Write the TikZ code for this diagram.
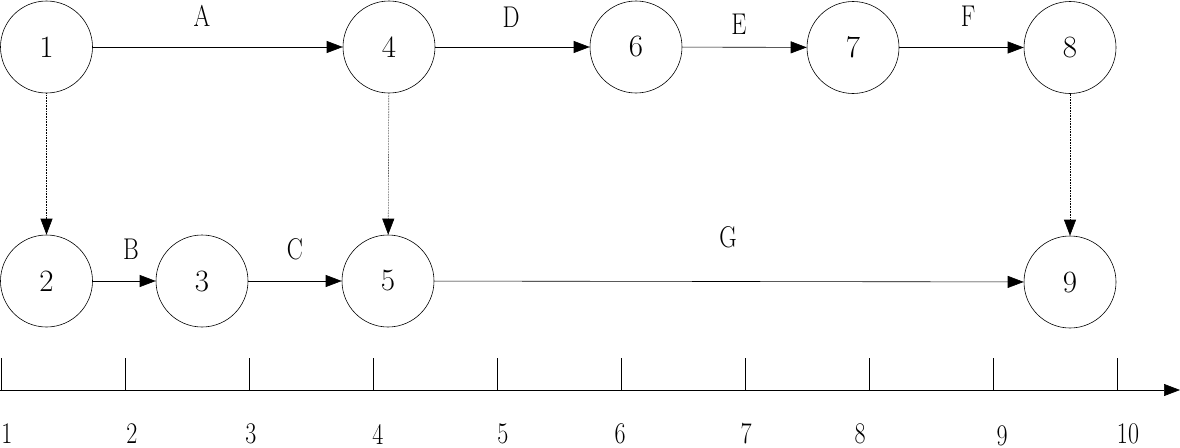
\documentclass[tikz,border=0pt]{standalone}
\usetikzlibrary{arrows.meta}
\newcommand{\lbltxt}[1]{\scalebox{0.8}[1]{\fontsize{30}{32}\selectfont #1}}
\tikzset{
  ev/.style={circle,draw,line width=0.6pt,minimum size=92pt,inner sep=0pt,font=\fontsize{31}{33}\selectfont},
  act/.style={line width=0.6pt,-{Triangle[length=16pt,width=12pt]}},
  dum/.style={line width=0.6pt,densely dotted,-{Triangle[length=16pt,width=12pt]}},
  txt/.style={inner sep=0pt},
  tick/.style={line width=0.6pt}
}
\begin{document}
\begin{tikzpicture}[x=1pt,y=-1pt]
\useasboundingbox (0,0) rectangle (1180,447);
\node[ev] (n1) at (46.5,47) {1};
\node[ev] (n4) at (389,47) {4};
\node[ev] (n6) at (636,47) {6};
\node[ev] (n7) at (853,47.5) {7};
\node[ev] (n8) at (1070,47.5) {8};
\node[ev] (n2) at (46.5,281) {2};
\node[ev] (n3) at (202,281) {3};
\node[ev] (n5) at (388,281) {5};
\node[ev] (n9) at (1070,282) {9};
\draw[act] (n1) -- (n4);
\draw[act] (n4) -- (n6);
\draw[act] (n6) -- (n7);
\draw[act] (n7) -- (n8);
\draw[act] (n2) -- (n3);
\draw[act] (n3) -- (n5);
\draw[act] (n5) -- (n9);
\draw[dum] (n1) -- (n2);
\draw[dum] (n4) -- (n5);
\draw[dum] (n8) -- (n9);
\node[txt] (lA) at (202,16) {\lbltxt{A}};
\node[txt] (lD) at (511,17) {\lbltxt{D}};
\node[txt] (lE) at (739,24) {\lbltxt{E}};
\node[txt] (lF) at (968,16) {\lbltxt{F}};
\node[txt] (lB) at (131,249) {\lbltxt{B}};
\node[txt] (lC) at (295,249) {\lbltxt{C}};
\node[txt] (lG) at (728,237) {\lbltxt{G}};
\coordinate (ax0) at (0,390);
\coordinate (ax1) at (1180,390);
\draw[act] (ax0) -- (ax1);
\foreach \i in {0,...,9} {
  \draw[tick] ({1+124.05*\i},358) -- ({1+124.05*\i},390);
}
\node[txt] (t1) at (7,434) {\lbltxt{1}};
\node[txt] (t2) at (132,434) {\lbltxt{2}};
\node[txt] (t3) at (251,434) {\lbltxt{3}};
\node[txt] (t4) at (378,434) {\lbltxt{4}};
\node[txt] (t5) at (503,434) {\lbltxt{5}};
\node[txt] (t6) at (620,434) {\lbltxt{6}};
\node[txt] (t7) at (746,434) {\lbltxt{7}};
\node[txt] (t8) at (860,434) {\lbltxt{8}};
\node[txt] (t9) at (1002,436) {\lbltxt{9}};
\node[txt] (t10) at (1128,434) {\lbltxt{10}};
\end{tikzpicture}
\end{document}
